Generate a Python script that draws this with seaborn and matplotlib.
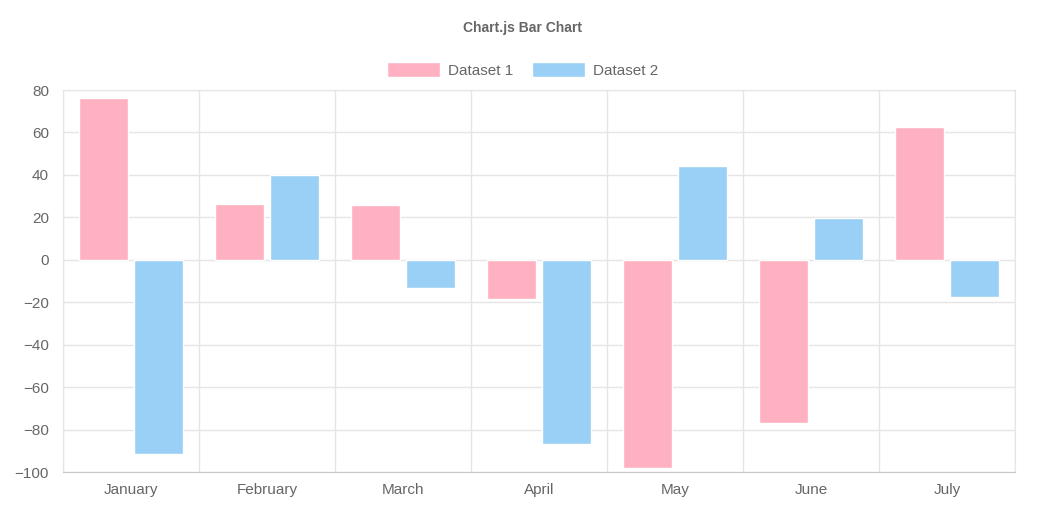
import matplotlib.pyplot as plt
import seaborn as sns
import pandas as pd
from matplotlib.patches import Patch

months = ["January", "February", "March", "April", "May", "June", "July"]
dataset1 = [76, 26.5, 26, -18.5, -98, -77, 62.5]
dataset2 = [-91.5, 40, -13.5, -87, 44, 19.5, -17.5]

df = pd.DataFrame({
    "month": months * 2,
    "value": dataset1 + dataset2,
    "series": ["Dataset 1"] * 7 + ["Dataset 2"] * 7,
})

sns.set_style("white")
plt.rcParams["font.family"] = ["Liberation Sans", "DejaVu Sans"]

fig = plt.figure(figsize=(10.45, 5.25), dpi=100)
ax = fig.add_axes([63 / 1045, 1 - 472 / 525, (1015 - 63) / 1045, (472 - 90) / 525])

colors = ["#FFB1C1", "#9AD0F5"]
sns.barplot(data=df, x="month", y="value", hue="series", palette=colors,
            width=0.8, gap=0.1, ax=ax, legend=False, saturation=1, zorder=3)

ax.set_ylim(-100, 80)
ax.set_xlim(-0.5, 6.5)
ax.set_yticks(range(-100, 81, 20))
ax.set_xticks(range(7))
ax.set_xticks([i - 0.5 for i in range(8)], minor=True)
ax.set_xticklabels(months)
ax.set_xlabel("")
ax.set_ylabel("")
ax.grid(axis="y", color="#e5e5e5", linewidth=1, zorder=0)
ax.grid(axis="x", which="minor", color="#e5e5e5", linewidth=1, zorder=0)
ax.tick_params(axis="x", which="major", length=0, pad=8, labelsize=11, labelcolor="#666666")
ax.tick_params(axis="x", which="minor", length=8, color="#e5e5e5")
ax.tick_params(axis="y", length=8, color="#e5e5e5", labelsize=11, labelcolor="#666666", pad=2)
for side in ["top", "right"]:
    ax.spines[side].set_color("#e5e5e5")
ax.spines["left"].set_color("#e5e5e5")
ax.spines["bottom"].set_color("#c8c8c8")

fig.text(0.5, 1 - 28 / 525, "Chart.js Bar Chart", ha="center", va="center",
         fontsize=10, fontweight="bold", color="#666666")
handles = [Patch(facecolor=c, label=l) for c, l in zip(colors, ["Dataset 1", "Dataset 2"])]
fig.legend(handles=handles, loc="center", bbox_to_anchor=(0.5, 1 - 70 / 525), ncol=2,
           frameon=False, fontsize=11, labelcolor="#666666", handlelength=3.5,
           handleheight=1.1, handletextpad=0.5, columnspacing=1.2)

fig.savefig("out.png", dpi=100)
